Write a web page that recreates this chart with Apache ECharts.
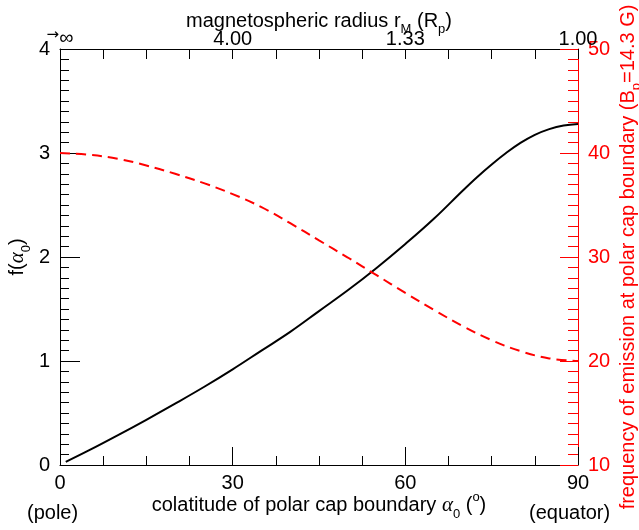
<!DOCTYPE html>
<html>
<head>
<meta charset="utf-8">
<script src="https://cdn.jsdelivr.net/npm/echarts@6/dist/echarts.min.js"></script>
<style>html,body{margin:0;padding:0;background:#fff;}#c{width:639px;height:530px;}</style>
</head>
<body>
<div id="c"></div>
<script>
// Data
var alphaF = [1, 5, 10, 15, 20, 25, 30, 35, 40, 45, 50, 55, 60, 65, 70, 72.5, 75, 77.5, 80, 82.5, 85, 87.5, 90];
var fValues = [0.03, 0.14, 0.285, 0.435, 0.59, 0.75, 0.92, 1.10, 1.28, 1.48, 1.68, 1.895, 2.125, 2.37, 2.64, 2.77, 2.89, 3.00, 3.097, 3.175, 3.23, 3.265, 3.28];
var alphaFreq = [0, 5, 10, 15, 20, 25, 30, 35, 40, 45, 50, 55, 60, 65, 70, 75, 80, 85, 90];
var freqValues = [40.0, 39.83, 39.45, 38.8, 38.0, 37.1, 36.05, 34.8, 33.25, 31.6, 29.95, 28.25, 26.55, 24.9, 23.35, 22.0, 20.95, 20.25, 20.0];
var bottomTicks = [0, 30, 60, 90];
var topTickLabels = ['∞', '4.00', '1.33', '1.00'];
var leftTicks = [0, 1, 2, 3, 4];
var rightTicks = [10, 20, 30, 40, 50];

var FONT = 'Liberation Sans, Arial, Helvetica, sans-serif';
var FS = 20;
var RED = '#ff0000';

function pairs(xs, ys) { return xs.map(function (x, i) { return [x, ys[i]]; }); }

var chart = echarts.init(document.getElementById('c'));
var subStyle = { fontSize: 13, fontFamily: FONT, verticalAlign: 'bottom', padding: [0, 0, -5, 0] };
var option = {
  backgroundColor: '#fff',
  animation: false,
  grid: { left: 60, right: 61, top: 49, bottom: 65, containLabel: false, outerBoundsMode: 'none' },
  xAxis: [
    {
      type: 'value', position: 'bottom', min: 0, max: 90, interval: 30,
      axisLine: { show: true, onZero: false, lineStyle: { color: '#000', width: 1 } },
      axisTick: { show: true, inside: true, length: 18, lineStyle: { color: '#000' } },
      minorTick: { show: true, splitNumber: 4, length: 9, lineStyle: { color: '#000' } },
      splitLine: { show: false },
      axisLabel: { color: '#000', fontSize: FS, fontFamily: FONT, margin: 8 },
      name: 'colatitude of polar cap boundary {i|α}{sub|0} ({sup|o})',
      nameLocation: 'middle', nameGap: 30, nameMoveOverlap: false,
      nameTextStyle: {
        color: '#000', fontSize: FS, fontFamily: FONT,
        rich: {
          i: { fontSize: 21, fontStyle: 'italic', fontFamily: 'Liberation Serif, serif', color: '#000' },
          sub: subStyle,
          sup: { fontSize: 13, fontFamily: FONT, verticalAlign: 'top', padding: [-4, 0, 0, 0] }
        }
      }
    },
    {
      type: 'value', position: 'top', min: 0, max: 90, interval: 30,
      axisLine: { show: true, onZero: false, lineStyle: { color: '#000', width: 1 } },
      axisTick: { show: true, inside: true, length: 10, lineStyle: { color: '#000' } },
      minorTick: { show: true, splitNumber: 4, length: 10, lineStyle: { color: '#000' } },
      splitLine: { show: false },
      axisLabel: {
        color: '#000', fontSize: FS, fontFamily: FONT, margin: 0,
        formatter: function (v) {
          var i = bottomTicks.indexOf(v);
          if (i === 0) return '{arr|→}{inf|' + topTickLabels[0] + '}';
          return i >= 0 ? topTickLabels[i] : '';
        },
        rich: {
          arr: { fontSize: 15, fontFamily: 'DejaVu Sans, sans-serif', verticalAlign: 'top', padding: [0, 0, 6, 0], color: '#000' },
          inf: { fontSize: FS, fontFamily: FONT, color: '#000' }
        }
      },
      name: 'magnetospheric radius r{sub|M} (R{sub|p})',
      nameLocation: 'middle', nameGap: 18, nameMoveOverlap: false,
      nameTextStyle: { color: '#000', fontSize: FS, fontFamily: FONT, rich: { sub: subStyle } }
    }
  ],
  yAxis: [
    {
      type: 'value', position: 'left', min: 0, max: 4, interval: 1,
      axisLine: { show: true, onZero: false, lineStyle: { color: '#000', width: 1 } },
      axisTick: { show: true, inside: true, length: 20, lineStyle: { color: '#000' } },
      minorTick: { show: true, splitNumber: 10, length: 9, lineStyle: { color: '#000' } },
      splitLine: { show: false },
      axisLabel: { color: '#000', fontSize: FS, fontFamily: FONT, margin: 10 },
      name: 'f({i|α}{sub|0})', nameLocation: 'middle', nameGap: 32, nameRotate: 90, nameMoveOverlap: false,
      nameTextStyle: {
        color: '#000', fontSize: FS, fontFamily: FONT,
        rich: {
          i: { fontSize: 21, fontStyle: 'italic', fontFamily: 'Liberation Serif, serif', color: '#000' },
          sub: subStyle
        }
      }
    },
    {
      type: 'value', position: 'right', min: 10, max: 50, interval: 10,
      axisLine: { show: true, onZero: false, lineStyle: { color: RED, width: 1 } },
      axisTick: { show: true, inside: true, length: 18, lineStyle: { color: RED } },
      minorTick: { show: true, splitNumber: 10, length: 10, lineStyle: { color: RED } },
      splitLine: { show: false },
      axisLabel: { color: RED, fontSize: FS, fontFamily: FONT, margin: 10 },
      name: 'frequency of emission at polar cap boundary (B{sub|p}=14.3 G)',
      nameLocation: 'middle', nameGap: 40, nameRotate: 90, nameMoveOverlap: false,
      nameTextStyle: {
        color: RED, fontSize: FS, fontFamily: FONT,
        rich: { sub: { fontSize: 13, fontFamily: FONT, color: RED, verticalAlign: 'bottom', padding: [0, 0, -5, 0] } }
      }
    }
  ],
  graphic: [
    { type: 'text', left: 27, top: 503, style: { text: '(pole)', font: FS + 'px ' + FONT, fill: '#000' } },
    { type: 'text', left: 529, top: 503, style: { text: '(equator)', font: FS + 'px ' + FONT, fill: '#000' } }
  ],
  series: [
    {
      type: 'line', xAxisIndex: 0, yAxisIndex: 0, data: pairs(alphaF, fValues),
      showSymbol: false, smooth: 0.4,
      lineStyle: { color: '#000', width: 2 }, z: 3
    },
    {
      type: 'line', xAxisIndex: 0, yAxisIndex: 1, data: pairs(alphaFreq, freqValues),
      showSymbol: false, smooth: 0.4,
      lineStyle: { color: RED, width: 2, type: [10, 6] }, z: 3
    }
  ]
};
chart.setOption(option);
</script>
</body>
</html>
